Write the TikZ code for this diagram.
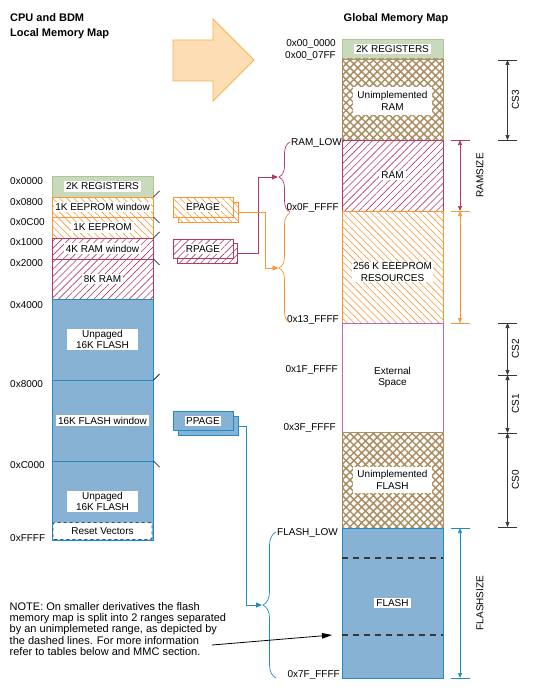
\documentclass[tikz,border=0pt]{standalone}
\usepackage{fontspec}
\setmainfont{Liberation Sans}
\usepackage{tikz}
\usetikzlibrary{arrows.meta,patterns.meta,decorations.pathreplacing,calc,positioning}
\usepackage{xcolor}
\definecolor{mmgreen}{RGB}{201,217,187}
\definecolor{mmgreenline}{RGB}{172,198,152}
\definecolor{mmbrown}{RGB}{172,142,98}
\definecolor{mmorange}{RGB}{247,150,50}
\definecolor{mmmaroon}{RGB}{178,58,100}
\definecolor{mmblue}{RGB}{136,178,212}
\definecolor{mmblueline}{RGB}{32,140,196}
\definecolor{mmpurple}{RGB}{190,100,190}
\definecolor{mmdashblue}{RGB}{50,70,150}
\definecolor{mmarrowfill}{RGB}{253,222,180}
\definecolor{mmarrowline}{RGB}{247,178,78}
\definecolor{mmgray}{RGB}{55,55,55}
\tikzstyle{block} = [rectangle, inner sep=0pt, line width=0.9pt]
\tikzstyle{regs} = [block, fill=mmgreen, draw=mmgreenline]
\tikzstyle{eeprom} = [block, draw=mmorange, preaction={fill=white}, pattern={Lines[angle=-45,distance=5pt,line width=0.6pt]}, pattern color=mmorange]
\tikzstyle{ram} = [block, draw=mmmaroon, preaction={fill=white}, pattern={Lines[angle=45,distance=5pt,line width=0.6pt]}, pattern color=mmmaroon]
\tikzstyle{flash} = [block, fill=mmblue, draw=mmblueline]
\tikzstyle{unimpl} = [block, draw=mmbrown, preaction={fill=white}, pattern={Hatch[angle=45,distance=5.5pt,line width=1.5pt]}, pattern color=mmbrown]
\tikzstyle{ext} = [block, draw=mmpurple, fill=white]
\tikzstyle{lbl} = [fill=white, inner xsep=2pt, inner ysep=1.5pt, align=center]
\tikzstyle{addr} = [inner sep=0pt, anchor=base west]
\tikzstyle{gaddr} = [inner sep=0pt, anchor=base east]
\tikzstyle{title} = [inner sep=0pt, align=left, font=\fontsize{11}{15}\selectfont\bfseries]
\tikzstyle{tickline} = [line width=0.7pt, color=black]
\tikzstyle{dimtip} = [{Triangle[length=5pt,width=4pt]}-{Triangle[length=5pt,width=4pt]}, line width=0.7pt]
\tikzstyle{dimlabel} = [rotate=90, inner sep=0pt]
\tikzstyle{pagebox} = [minimum width=60pt, minimum height=19.5pt]
\tikzstyle{brace} = [decorate, decoration={brace, amplitude=11pt}, line width=0.7pt]
\tikzstyle{link} = [line width=0.9pt, -{Triangle[length=6pt,width=5pt]}]

\begin{document}
\begin{tikzpicture}[x=1pt, y=-1pt, every node/.style={font=\fontsize{10}{11.5}\selectfont}]
\useasboundingbox (0,0) rectangle (536,690);

% Titles and big arrow
\node (ltitle) [title, anchor=north west] at (10,13.5) {CPU and BDM\\Local Memory Map};
\node (gtitle) [title, anchor=base] at (396,21.5) {Global Memory Map};
\draw[fill=mmarrowfill, draw=mmarrowline, line width=0.9pt] (173,40) -- (213,40) -- (213,19) -- (254,60) -- (213,101) -- (213,81) -- (173,81) -- cycle;

% Local memory map
\node (lreg) [regs, minimum width=101pt, minimum height=21pt] at (102.5,186.5) {};
\node at (lreg.center) [lbl] {2K REGISTERS};
\node (leewin) [eeprom, minimum width=101pt, minimum height=20pt] at (102.5,207) {};
\node at (leewin.center) [lbl, inner xsep=1pt] {1K EEPROM window};
\node (leep) [eeprom, minimum width=101pt, minimum height=21pt] at (102.5,227.5) {};
\node at (leep.center) [lbl] {1K EEPROM};
\node (lramwin) [ram, minimum width=101pt, minimum height=21pt] at (102.5,248.5) {};
\node at (lramwin.center) [lbl] {4K RAM window};
\node (lram) [ram, minimum width=101pt, minimum height=40pt] at (102.5,279) {};
\node at (lram.center) [lbl] {8K RAM};
\node (lflasha) [flash, minimum width=101pt, minimum height=81pt] at (102.5,339.5) {};
\node at (lflasha.center) [lbl, minimum width=71pt] {Unpaged\\16K FLASH};
\node (lflashw) [flash, minimum width=101pt, minimum height=81pt] at (102.5,420.5) {};
\node at (lflashw.center) [lbl] {16K FLASH window};
\node (lflashb) [flash, minimum width=101pt, minimum height=79pt] at (102.5,500.5) {};
\node at (102.5,501.5) [lbl, minimum width=71pt] {Unpaged\\16K FLASH};
\node (lreset) [block, fill=white, draw=mmdashblue, dashed, rounded corners=1.5pt, minimum width=99pt, minimum height=17pt] at (102.5,531) {Reset Vectors};
\foreach \y/\d in {197/-6, 217/6, 238/-6, 259/6, 380/-6, 461/6}
  \draw[tickline] (153.5,\y) -- ++(6,\d);

% Local addresses
\node (a0000) [addr] at (10,184.6) {0x0000};
\node (a0800) [addr] at (10,205.6) {0x0800};
\node (a0c00) [addr] at (10,225.6) {0x0C00};
\node (a1000) [addr] at (10,245.6) {0x1000};
\node (a2000) [addr] at (10,266.6) {0x2000};
\node (a4000) [addr] at (10,308.6) {0x4000};
\node (a8000) [addr] at (10,387.6) {0x8000};
\node (ac000) [addr] at (10,468.6) {0xC000};
\node (affff) [addr] at (10,541.6) {0xFFFF};

% Page registers
\node (epageb) [eeprom, pagebox] at (208,212.5) {};
\node (epage) [eeprom, pagebox] at (203,207.5) {};
\node at (epage.center) [lbl, inner sep=1pt] {EPAGE};
\node (rpageb) [ram, pagebox] at (207.5,253.5) {};
\node (rpage) [ram, pagebox] at (203,249) {};
\node at (rpage.center) [lbl, inner sep=1pt] {RPAGE};
\node (ppageb) [flash, pagebox, draw=mmblueline] at (208.5,426) {};
\node (ppage) [flash, pagebox, draw=mmblueline] at (203,421) {};
\node at (ppage.center) [lbl, inner sep=1pt] {PPAGE};

% Global memory map
\node (greg) [regs, minimum width=101pt, minimum height=20pt] at (392.5,49) {};
\node at (greg.center) [lbl] {2K REGISTERS};
\node (gunram) [unimpl, minimum width=101pt, minimum height=81pt] at (392.5,99.5) {};
\node at (392.5,101) [lbl, inner sep=4.5pt] {Unimplemented\\RAM};
\node (gram) [ram, minimum width=101pt, minimum height=71pt] at (392.5,175.5) {};
\node at (gram.center) [lbl] {RAM};
\node (geep) [eeprom, minimum width=101pt, minimum height=112pt] at (392.5,267) {};
\node at (392.5,272) [lbl, inner sep=1pt] {256 K EEEPROM\\RESOURCES};
\node (gext) [ext, minimum width=101pt, minimum height=109pt] at (392.5,377.5) {};
\node at (gext.center) [align=center] {External\\Space};
\node (gunflash) [unimpl, minimum width=101pt, minimum height=96pt] at (392.5,480) {};
\node at (gunflash.center) [lbl, inner sep=4pt] {Unimplemented\\FLASH};
\node (gflash) [flash, minimum width=101pt, minimum height=150pt] at (392.5,603) {};
\node at (gflash.center) [lbl] {FLASH};
\foreach \y in {558, 635}
  \draw[mmgray, line width=1.1pt, dash pattern=on 6pt off 5pt] (gflash.west |- 0,\y) -- (gflash.east |- 0,\y);

% Global addresses
\node (g0000) [gaddr] at (336,46.6) {0x00\_0000};
\node (g07ff) [gaddr] at (336,58.6) {0x00\_07FF};
\node (gramlow) [gaddr] at (342,145.6) {RAM\_LOW};
\node (g0fff) [gaddr] at (339,210.3) {0x0F\_FFFF};
\node (g13ff) [gaddr] at (339,322.6) {0x13\_FFFF};
\node (g1fff) [gaddr] at (338,372.6) {0x1F\_FFFF};
\node (g3fff) [gaddr] at (336,430.6) {0x3F\_FFFF};
\node (gflashlow) [gaddr] at (338,535.6) {FLASH\_LOW};
\node (g7fff) [gaddr] at (340,677.6) {0x7F\_FFFF};

% Braces and page links
\draw[brace, mmmaroon] (290,212) -- (290,142);
\draw[brace, mmorange] (290,323) -- (290,213);
\draw[brace, mmblueline, decoration={amplitude=13pt}] (276,678) -- (276,532);
\coordinate (rtip) at (278,177);
\coordinate (etip) at (278.5,268);
\coordinate (ptip) at (262,605);
\draw[link, mmmaroon] (rpageb.east) -- ++(20,0) |- (rtip);
\draw[link, mmorange] (epageb.east) -- ++(27,0) |- (etip);
\draw[link, mmblueline] (ppageb.east) -- ++(7,0) |- (ptip);

% Chip select dimensions
\foreach \n/\y in {0/60, 1/140, 2/323, 3/375, 4/433, 5/527} {
  \coordinate (cs\n) at (507.5,\y);
  \draw[tickline, mmgray] ($(cs\n)+(-9.5,0)$) -- ++(19,0);
}
\draw[dimtip, mmgray] (cs0) -- (cs1);
\draw[dimtip, mmgray] (cs2) -- (cs3);
\draw[dimtip, mmgray] (cs3) -- (cs4);
\draw[dimtip, mmgray] (cs4) -- (cs5);
\node[dimlabel] at ($(cs0)!0.5!(cs1)+(8,0)$) {CS3};
\node[dimlabel] at ($(cs2)!0.5!(cs3)+(8,0)$) {CS2};
\node[dimlabel] at ($(cs3)!0.5!(cs4)+(8,0)$) {CS1};
\node[dimlabel] at ($(cs4)!0.5!(cs5)+(8,0)$) {CS0};

% Size dimensions
\coordinate (sz0) at (460,140);
\coordinate (sz1) at (460,211);
\coordinate (sz2) at (460,323);
\coordinate (fz0) at (460,528);
\coordinate (fz1) at (460,678);
\draw[tickline, mmmaroon] ($(sz0)+(-9.5,0)$) -- ++(19,0);
\draw[tickline, mmorange] ($(sz1)+(-9.5,0)$) -- ++(19,0);
\draw[tickline, mmorange] ($(sz2)+(-9.5,0)$) -- ++(19,0);
\draw[tickline, mmblueline] ($(fz0)+(-9.5,0)$) -- ++(19,0);
\draw[tickline, mmblueline] ($(fz1)+(-9.5,0)$) -- ++(19,0);
\draw[dimtip, mmmaroon] (sz0) -- (sz1);
\draw[dimtip, mmorange] (sz1) -- (sz2);
\draw[dimtip, mmblueline] (fz0) -- (fz1);
\node[dimlabel] at (480,175.5) {RAMSIZE};
\node[dimlabel] at (480,603) {FLASHSIZE};

% Note
\node (note) [inner sep=0pt, anchor=north west, align=left, font=\fontsize{11}{11.3}\selectfont] at (9.5,602) {NOTE: On smaller derivatives the flash\\memory map is split into 2 ranges separated\\by an unimplemeted range, as depicted by\\the dashed lines. For more information\\refer to tables below and MMC section.};
\coordinate (notefrom) at (212,645);
\coordinate (noteto) at (332,635);
\draw[line width=0.8pt, -{Triangle[length=10pt,width=5.5pt]}] (notefrom) -- (noteto);
\end{tikzpicture}
\end{document}
